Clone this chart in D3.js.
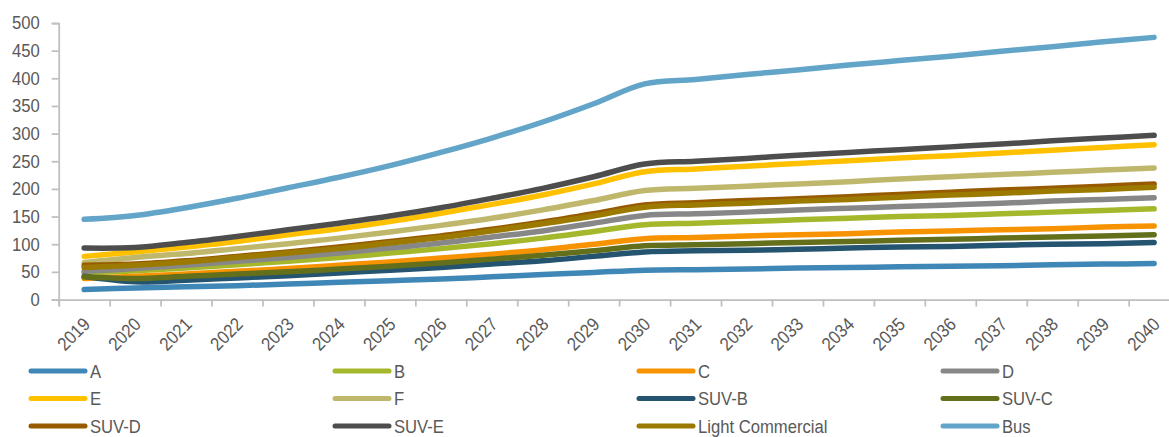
<!DOCTYPE html>
<html>
<head>
<meta charset="utf-8">
<script src="https://cdn.jsdelivr.net/npm/d3@7"></script>
<style>
  body { margin: 0; background: #fff; }
  svg { display: block; }
  text { font-family: "Liberation Sans", Arial, sans-serif; fill: #595959; }
</style>
</head>
<body>
<svg></svg>
<script>
// Categories
const years = [2019, 2020, 2021, 2022, 2023, 2024, 2025, 2026, 2027, 2028, 2029,
               2030, 2031, 2032, 2033, 2034, 2035, 2036, 2037, 2038, 2039, 2040];

// Series values
const seriesA     = [18, 21, 23, 25, 28, 31, 34, 37, 41, 45, 49, 53, 54, 55, 57, 58, 59, 60, 61, 63, 64, 65];
const seriesB     = [48, 52, 57, 63, 69, 76, 84, 92, 101, 111, 123, 135, 138, 141, 144, 147, 150, 152, 155, 158, 161, 164];
const seriesC     = [38, 42, 46, 51, 56, 62, 68, 75, 82, 90, 100, 110, 112, 115, 117, 119, 122, 124, 126, 128, 131, 133];
const seriesD     = [51, 56, 62, 69, 76, 84, 93, 102, 113, 124, 138, 152, 155, 158, 162, 165, 168, 171, 174, 178, 181, 184];
const seriesE     = [78, 86, 95, 105, 117, 128, 141, 156, 172, 189, 209, 231, 236, 241, 246, 251, 256, 260, 265, 270, 275, 280];
const seriesF     = [67, 76, 83, 92, 101, 111, 122, 134, 147, 162, 179, 197, 201, 205, 209, 213, 218, 222, 226, 230, 234, 238];
const seriesSUVB  = [42, 32, 35, 39, 43, 48, 53, 58, 64, 70, 78, 86, 88, 89, 91, 93, 95, 96, 98, 100, 101, 103];
const seriesSUVC  = [41, 38, 42, 46, 50, 55, 60, 66, 73, 80, 88, 97, 99, 101, 103, 105, 107, 109, 111, 113, 115, 117];
const seriesSUVD  = [62, 64, 70, 78, 86, 95, 105, 115, 127, 140, 155, 171, 175, 179, 182, 186, 190, 194, 198, 201, 205, 209];
const seriesSUVE  = [93, 94, 103, 114, 126, 138, 151, 166, 183, 201, 222, 245, 250, 255, 261, 266, 271, 276, 281, 287, 292, 297];
const seriesLC    = [58, 62, 68, 76, 84, 92, 102, 112, 124, 137, 151, 167, 171, 174, 178, 181, 185, 189, 192, 196, 199, 203];
const seriesBus   = [145, 152, 166, 183, 202, 221, 242, 266, 292, 321, 354, 390, 398, 407, 415, 424, 432, 440, 449, 457, 466, 474];

const seriesNames = ["A", "B", "C", "D", "E", "F", "SUV-B", "SUV-C", "SUV-D", "SUV-E", "Light Commercial", "Bus"];
const seriesValues = [seriesA, seriesB, seriesC, seriesD, seriesE, seriesF,
                      seriesSUVB, seriesSUVC, seriesSUVD, seriesSUVE, seriesLC, seriesBus];
const seriesColors = ["#3f87b6", "#a5b72a", "#f79300", "#878787", "#ffc000", "#bfb86c",
                      "#245470", "#636f1b", "#985a00", "#4d4d4d", "#9c7a00", "#62a5c9"];

// Y tick labels
const yTicks = [0, 50, 100, 150, 200, 250, 300, 350, 400, 450, 500];

// Canvas
const W = 1169, H = 437;
const svg = d3.select("svg").attr("width", W).attr("height", H);

// Text is squeezed a little to look like the narrow face of the original
const fontSize = 18.5;
const squeeze = "scale(0.9,1)";

// Scales: categories sit between tick marks, axis runs past the right edge
const xScale = d3.scaleLinear()
  .domain([years[0] - 0.5, years[years.length - 1] + 0.5])
  .range([58.7, 1179.6]);

const yScale = d3.scaleLinear()
  .domain([0, 500])
  .range([299.5, 23]);

const axisColor = "#bfbfbf";

// Y axis
const yAxisGroup = svg.append("g")
  .attr("transform", `translate(${xScale.range()[0]},0)`)
  .call(d3.axisLeft(yScale).tickValues(yTicks).tickSize(7).tickFormat(d3.format("d")));
yAxisGroup.select(".domain").attr("stroke", axisColor).attr("stroke-width", 1.75);
yAxisGroup.selectAll(".tick line").attr("stroke", axisColor).attr("stroke-width", 1.75);
yAxisGroup.selectAll(".tick text")
  .attr("x", 0)
  .attr("transform", `translate(-19,0) ${squeeze}`)
  .attr("font-size", fontSize)
  .attr("font-family", null)
  .attr("fill", "#595959");

// X axis (tick marks between categories)
const boundaries = years.map(y => y - 0.5).concat([years[years.length - 1] + 0.5]);
const xAxisGroup = svg.append("g")
  .attr("transform", `translate(0,${yScale(0)})`)
  .call(d3.axisBottom(xScale).tickValues(boundaries).tickSize(7).tickFormat(""));
xAxisGroup.select(".domain").attr("stroke", axisColor).attr("stroke-width", 1.75);
xAxisGroup.selectAll(".tick line").attr("stroke", axisColor).attr("stroke-width", 1.75);

// X tick labels, rotated
svg.append("g")
  .selectAll("text")
  .data(years)
  .join("text")
  .attr("transform", d => `translate(${xScale(d) + 7},${yScale(0) + 26}) rotate(-45) ${squeeze}`)
  .attr("text-anchor", "end")
  .attr("font-size", fontSize)
  .text(d => d);

// Lines
const line = d3.line()
  .x((d, i) => xScale(years[i]))
  .y(d => yScale(d))
  .curve(d3.curveCatmullRom.alpha(0.5));

svg.append("g")
  .selectAll("path")
  .data(seriesValues)
  .join("path")
  .attr("fill", "none")
  .attr("stroke", (d, i) => seriesColors[i])
  .attr("stroke-width", 5.5)
  .attr("stroke-linecap", "round")
  .attr("stroke-linejoin", "round")
  .attr("d", d => line(d));

// Legend: 4 columns, 3 rows
const legendCols = 4, colStep = 304, rowStep = 27.5;
const legend = svg.append("g")
  .selectAll("g")
  .data(seriesNames)
  .join("g")
  .attr("transform", (d, i) => `translate(${31 + (i % legendCols) * colStep},${371 + Math.floor(i / legendCols) * rowStep})`);

legend.append("line")
  .attr("x1", 0).attr("x2", 54)
  .attr("y1", 0).attr("y2", 0)
  .attr("stroke", (d, i) => seriesColors[i])
  .attr("stroke-width", 5)
  .attr("stroke-linecap", "round");

legend.append("text")
  .attr("transform", `translate(59,6.5) ${squeeze}`)
  .attr("font-size", fontSize)
  .text(d => d);
</script>
</body>
</html>
